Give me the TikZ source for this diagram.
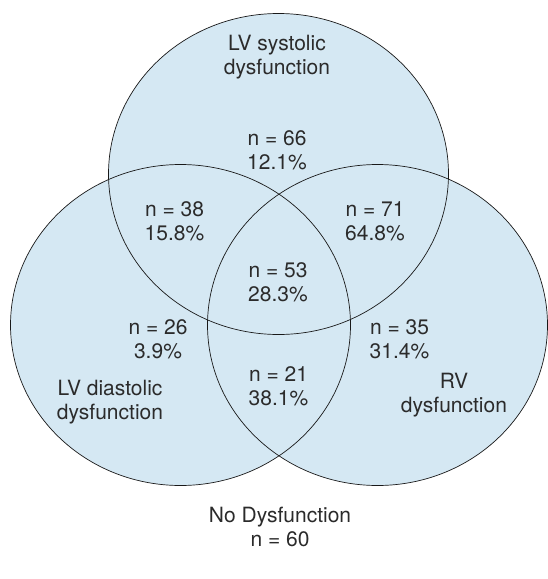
\documentclass[tikz,border=0pt]{standalone}
\usepackage{fontspec}
\setmainfont{TeX Gyre Heros}
\usepackage{xcolor}
\usetikzlibrary{positioning,calc}

\definecolor{vennblue}{HTML}{D5E8F3}
\definecolor{venntext}{HTML}{2B2B2B}

\begin{document}
\begin{tikzpicture}[x=1pt,y=1pt,
  lbl/.style={align=center,text=venntext,inner sep=0pt,
    font=\fontsize{21}{23.7}\selectfont},
  ring/.style={draw=black!90,line width=0.7pt}]
\useasboundingbox (0,0) rectangle (547,-579);

% the three sets
\coordinate (sysc) at (278.5,-174);
\coordinate (diac) at (180.5,-325);
\coordinate (rvc) at (377.5,-325);
\fill[vennblue] (sysc) ellipse [x radius=170, y radius=160.5];
\fill[vennblue] (diac) ellipse [x radius=170, y radius=160.5];
\fill[vennblue] (rvc) ellipse [x radius=170, y radius=160.5];
\draw[ring] (sysc) ellipse [x radius=170, y radius=160.5];
\draw[ring] (diac) ellipse [x radius=170, y radius=160.5];
\draw[ring] (rvc) ellipse [x radius=170, y radius=160.5];

% set names
\node[lbl] (sys) at (277,-57) {LV systolic\\dysfunction};
\node[lbl] (dia) at (110,-402) {LV diastolic\\dysfunction};
\node[lbl] (rv) at (454,-395) {RV\\dysfunction};
\node[lbl] (none) at (280,-527) {No Dysfunction\\n = 60};

% counts
\node[lbl] (sysonly) at (277,-150) {n = 66\\12.1\%};
\node[lbl] (sysdia) at (174.5,-221.5) {n = 38\\15.8\%};
\node[lbl] (sysrv) at (375,-221.5) {n = 71\\64.8\%};
\node[lbl] (all) at (278,-282) {n = 53\\28.3\%};
\node[lbl] (diaonly) at (158,-339) {n = 26\\3.9\%};
\node[lbl] (rvonly) at (399.5,-339) {n = 35\\31.4\%};
\node[lbl] (diarv) at (278.5,-386) {n = 21\\38.1\%};
\end{tikzpicture}
\end{document}
